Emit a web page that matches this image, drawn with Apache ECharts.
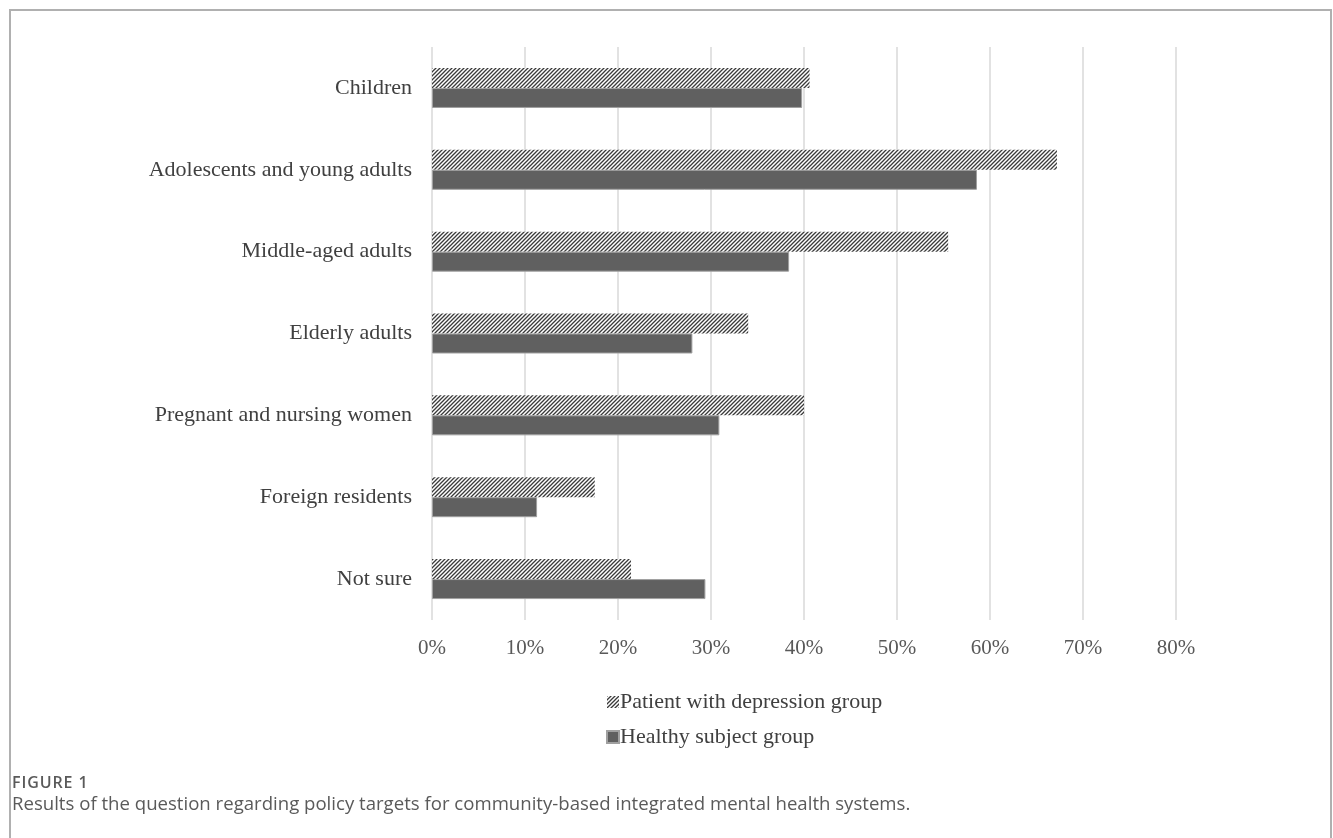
<!DOCTYPE html>
<html>
<head>
<meta charset="utf-8">
<script src="https://cdn.jsdelivr.net/npm/echarts@6/dist/echarts.min.js"></script>
<style>
  html, body { margin: 0; padding: 0; background: #fff; }
  #wrap { position: relative; width: 1333px; height: 838px; overflow: hidden; }
  #frame { position: absolute; left: 9px; top: 9px; width: 1323px; height: 840px;
           border-top: 2px solid #b0b0b0; border-left: 2px solid #b0b0b0; border-right: 2px solid #b0b0b0; box-sizing: border-box; }
  #chart { position: absolute; left: 0; top: 0; width: 1333px; height: 838px; }
  .cap { position: absolute; left: 12px; font-family: "Open Sans", "Lato", sans-serif; color: #5a5a5a; white-space: nowrap; }
  #capLabel { top: 771px; font-size: 16px; font-weight: 600; letter-spacing: 0.9px; }
  #capText { top: 790px; font-size: 18.6px; }
</style>
</head>
<body>
<div id="wrap">
  <div id="frame"></div>
  <div id="chart"></div>
  <div class="cap" id="capLabel"></div>
  <div class="cap" id="capText"></div>
</div>
<script>
const categories = ["Children", "Adolescents and young adults", "Middle-aged adults", "Elderly adults", "Pregnant and nursing women", "Foreign residents", "Not sure"];
const patientValues = [0.406, 0.672, 0.555, 0.340, 0.400, 0.175, 0.214];
const healthyValues = [0.398, 0.586, 0.384, 0.280, 0.309, 0.113, 0.294];
const seriesNames = ["Patient with depression group", "Healthy subject group"];
const xTicks = { min: 0, max: 0.8, interval: 0.1 };
const captionLabel = "FIGURE 1";
const captionText = "Results of the question regarding policy targets for community-based integrated mental health systems.";

document.getElementById('capLabel').textContent = captionLabel;
document.getElementById('capText').textContent = captionText;

function makeHatch() {
  const c = document.createElement('canvas');
  const s = 4;
  c.width = s; c.height = s;
  const g = c.getContext('2d');
  g.fillStyle = '#ffffff';
  g.fillRect(0, 0, s, s);
  g.strokeStyle = '#3a3a3a';
  g.lineWidth = 1.3;
  g.beginPath();
  g.moveTo(-1, s + 1); g.lineTo(s + 1, -1);
  g.moveTo(-1, 1); g.lineTo(1, -1);
  g.moveTo(s - 1, s + 1); g.lineTo(s + 1, s - 1);
  g.stroke();
  return c;
}

const chart = echarts.init(document.getElementById('chart'), null, { renderer: 'canvas' });
const serif = '"Liberation Serif", "DejaVu Serif", serif';
const hatch = { image: makeHatch(), repeat: 'repeat' };

chart.setOption({
  animation: false,
  backgroundColor: 'transparent',
  grid: { left: 432, right: 157, top: 47, bottom: 218, containLabel: false },
  xAxis: {
    type: 'value',
    min: xTicks.min, max: xTicks.max, interval: xTicks.interval,
    axisLine: { show: false },
    axisTick: { show: false },
    splitLine: { show: true, lineStyle: { color: '#d9d9d9', width: 1.5 } },
    axisLabel: {
      margin: 18,
      color: '#595959',
      fontFamily: serif,
      fontSize: 21,
      formatter: v => Math.round(v * 100) + '%'
    }
  },
  yAxis: {
    type: 'category',
    data: categories,
    inverse: true,
    axisLine: { show: false },
    axisTick: { show: false },
    axisLabel: { margin: 20, color: '#404040', fontFamily: serif, fontSize: 22 }
  },
  legend: {
    orient: 'vertical',
    left: 601,
    top: 686,
    itemGap: 13,
    itemWidth: 12,
    itemHeight: 12,
    icon: 'rect',
    textStyle: { fontFamily: serif, fontSize: 22, color: '#404040', padding: [0, 0, 0, -4] },
    data: seriesNames
  },
  series: [
    {
      name: seriesNames[0],
      type: 'bar',
      data: patientValues,
      barWidth: 20,
      barGap: '0%',
      itemStyle: { color: hatch }
    },
    {
      name: seriesNames[1],
      type: 'bar',
      data: healthyValues,
      barWidth: 20,
      barGap: '0%',
      itemStyle: { color: '#606060', borderColor: '#a0a0a0', borderWidth: 1 }
    }
  ]
});
</script>
</body>
</html>
